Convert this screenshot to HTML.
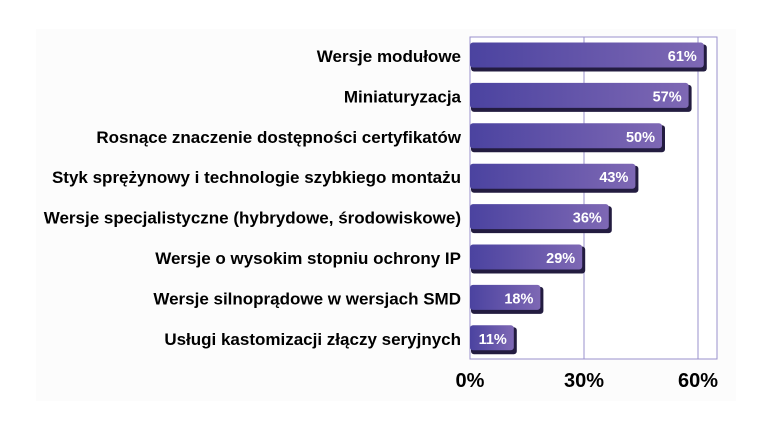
<!DOCTYPE html>
<html><head><meta charset="utf-8"><style>
body{margin:0;background:#fff;width:764px;height:429px;overflow:hidden}
svg{display:block;font-family:"Liberation Sans",Arial,sans-serif}
</style></head><body>
<svg id="chart" width="764" height="429">
<defs>
<linearGradient id="g" x1="0" x2="1" y1="0" y2="0"><stop offset="0" stop-color="#4b43a0"/><stop offset="1" stop-color="#7e68b4"/></linearGradient>
</defs>
<rect x="36" y="29" width="700" height="372" fill="#fcfcfc"/>
<g id="grid"></g><g id="bars"></g><g id="labels"></g><g id="ticks"></g>
</svg>
<script>
const categories=["Wersje modułowe","Miniaturyzacja","Rosnące znaczenie dostępności certyfikatów","Styk sprężynowy i technologie szybkiego montażu","Wersje specjalistyczne (hybrydowe, środowiskowe)","Wersje o wysokim stopniu ochrony IP","Wersje silnoprądowe w wersjach SMD","Usługi kastomizacji złączy seryjnych"];
const values=[61,57,50,43,36,29,18,11];
const tickValues=[0,30,60];
const tickLabels=["0%","30%","60%"];
const NS="http://www.w3.org/2000/svg";
const x0=470,pxPer=3.8,plotTop=37,plotBottom=359,plotRight=717,step=40.4,barH=27;
const xs=v=>x0+v*pxPer;
const yc=i=>56+i*step;
function mk(t,a,p){const e=document.createElementNS(NS,t);for(const k in a)e.setAttribute(k,a[k]);p.appendChild(e);return e;}
const grid=document.getElementById('grid'),bars=document.getElementById('bars'),labels=document.getElementById('labels'),ticks=document.getElementById('ticks');
const frame=mk('rect',{x:x0,y:plotTop,width:plotRight-x0,height:plotBottom-plotTop,fill:'#fff',stroke:'#9a90cc','stroke-width':1},grid);


tickValues.forEach((v,i)=>{
  const l=mk('line',{x1:xs(v),x2:xs(v),y1:plotTop,y2:plotBottom,stroke:'#9a90cc','stroke-width':1},grid);
  
  
  const t=mk('text',{x:xs(v),y:387,'text-anchor':'middle','font-size':20,'font-weight':'bold',fill:'#000'},ticks);
  t.textContent=tickLabels[i];
  
  
});
values.forEach((v,i)=>{
  const y=yc(i)-barH/2,w=xs(v)-x0+4;
  const s=mk('rect',{x:x0+1,y:y+2,width:w,height:barH,rx:3,fill:'#231c40'},bars);
  
  
  const b=mk('rect',{x:x0,y:y,width:w-2,height:barH-2,rx:3,fill:'url(#g)'},bars);
  
  
  const vt=mk('text',{x:xs(v)-5,y:yc(i)+5,'text-anchor':'end','font-size':14.5,'font-weight':'bold',fill:'#fff'},bars);
  vt.textContent=v+'%';
  
  
  const ct=mk('text',{x:461,y:yc(i)+6,'text-anchor':'end','font-size':17,'font-weight':'bold',fill:'#000'},labels);
  ct.textContent=categories[i];
  
  
});
</script>
</body></html>
